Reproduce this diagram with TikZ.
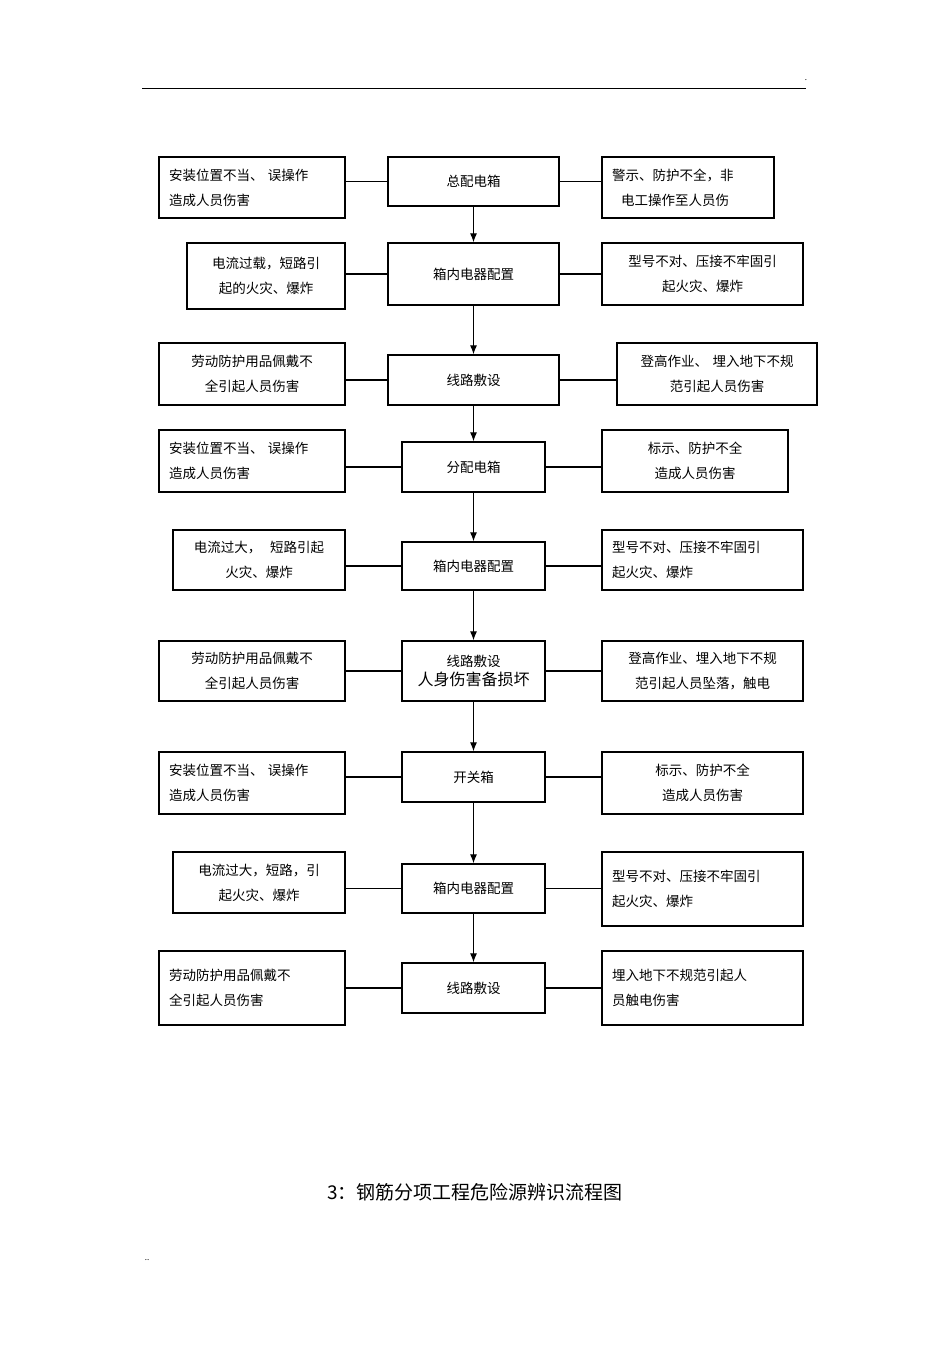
\documentclass[tikz,border=0pt]{standalone}
\usepackage{fontspec}
\setmainfont{Noto Sans CJK SC}
\usetikzlibrary{arrows.meta}
\newcommand\bx[7][]{\node[box,#1,minimum width={#5-#3},minimum height={#6-#4},text width={#5-#3-20}] (#2) at ({(#3+#5)/2},{(#4+#6)/2}) {#7};}
\begin{document}
\begin{tikzpicture}[x=1pt,y=-1pt,
  box/.style={draw,line width=1.3pt,inner sep=0pt,align=left,font=\fontsize{13.5}{25}\selectfont},
  cbox/.style={align=center},
  link/.style={line width=1.1pt},
  arr/.style={line width=1.1pt,-{Latex[length=9pt,width=7pt]}}]
\useasboundingbox (0,0) rectangle (950,1345);
\draw[line width=0.6pt] (142,88) -- (806,88);
\node[font=\fontsize{8}{8}\selectfont] at (806,80) {.};
\node[font=\fontsize{8}{8}\selectfont] at (147,1260) {..};
\node[font=\fontsize{19}{22}\selectfont] (title) at (475,1192) {3：钢筋分项工程危险源辨识流程图};

\bx{L1}{159}{157}{345}{218}{安装位置不当、 误操作\\造成人员伤害}
\bx[cbox]{C1}{388}{157}{559}{206}{总配电箱}
\bx{R1}{602}{157}{774}{218}{警示、防护不全，非\\\ \ 电工操作至人员伤}

\bx[cbox]{L2}{187}{243}{345}{309}{电流过载，短路引\\起的火灾、爆炸}
\bx[cbox]{C2}{388}{243}{559}{305}{箱内电器配置\\[14pt]}
\bx[cbox]{R2}{602}{243}{803}{305}{型号不对、压接不牢固引\\起火灾、爆炸}

\bx[cbox]{L3}{159}{343}{345}{405}{劳动防护用品佩戴不\\全引起人员伤害}
\bx[cbox]{C3}{388}{355}{559}{405}{线路敷设}
\bx[cbox]{R3}{617}{343}{817}{405}{登高作业、 埋入地下不规\\范引起人员伤害}

\bx{L4}{159}{430}{345}{492}{安装位置不当、 误操作\\造成人员伤害}
\bx[cbox]{C4}{402}{442}{545}{492}{分配电箱}
\bx[cbox]{R4}{602}{430}{788}{492}{标示、防护不全\\造成人员伤害}

\bx[cbox]{L5}{173}{530}{345}{590}{电流过大，\ \ 短路引起\\火灾、爆炸}
\bx[cbox]{C5}{402}{542}{545}{590}{箱内电器配置}
\bx{R5}{602}{530}{803}{590}{型号不对、压接不牢固引\\起火灾、爆炸}

\bx[cbox]{L6}{159}{641}{345}{701}{劳动防护用品佩戴不\\全引起人员伤害}
\bx[cbox,font=\fontsize{13.5}{19}\selectfont]{C6}{402}{641}{545}{701}{线路敷设\\{\fontsize{16}{19}\selectfont 人身伤害备损坏}}
\bx[cbox]{R6}{602}{641}{803}{701}{登高作业、埋入地下不规\\范引起人员坠落，触电}

\bx{L7}{159}{752}{345}{814}{安装位置不当、 误操作\\造成人员伤害}
\bx[cbox]{C7}{402}{752}{545}{802}{开关箱}
\bx[cbox]{R7}{602}{752}{803}{814}{标示、防护不全\\造成人员伤害}

\bx[cbox]{L8}{173}{852}{345}{913}{电流过大，短路，引\\起火灾、爆炸}
\bx[cbox]{C8}{402}{864}{545}{913}{箱内电器配置}
\bx{R8}{602}{852}{803}{926}{型号不对、压接不牢固引\\起火灾、爆炸\\[8pt]}

\bx{L9}{159}{951}{345}{1025}{劳动防护用品佩戴不\\全引起人员伤害}
\bx[cbox]{C9}{402}{963}{545}{1013}{线路敷设}
\bx{R9}{602}{951}{803}{1025}{埋入地下不规范引起人\\员触电伤害}

\foreach \i in {1,...,9}{
  \draw[link] (C\i.west) -- (C\i.west -| L\i.east);
  \draw[link] (C\i.east) -- (C\i.east -| R\i.west);
}
\foreach \i/\j in {1/2,2/3,3/4,4/5,5/6,6/7,7/8,8/9}{
  \draw[arr] (C\i.south) -- (C\j.north);
}
\end{tikzpicture}
\end{document}
